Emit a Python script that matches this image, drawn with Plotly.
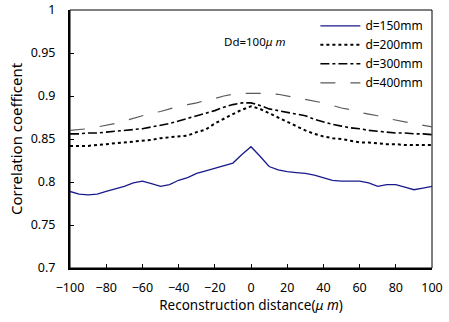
import plotly.graph_objects as go

x_vals = [-100, -95, -90, -85, -80, -75, -70, -65, -60, -55, -50, -45, -40, -35, -30, -25, -20, -15, -10, -5,
          0, 5, 10, 15, 20, 25, 30, 35, 40, 45, 50, 55, 60, 65, 70, 75, 80, 85, 90, 95, 100]

d150 = [0.789, 0.786, 0.785, 0.786, 0.789, 0.792, 0.795, 0.799, 0.801, 0.798, 0.795, 0.797, 0.802, 0.805,
        0.810, 0.813, 0.816, 0.819, 0.822, 0.832, 0.841, 0.830, 0.818, 0.814, 0.812, 0.811, 0.810, 0.808,
        0.805, 0.802, 0.801, 0.801, 0.801, 0.799, 0.795, 0.797, 0.797, 0.794, 0.791, 0.793, 0.795]
d200 = [0.842, 0.842, 0.842, 0.843, 0.844, 0.845, 0.846, 0.847, 0.848, 0.849, 0.851, 0.852, 0.853, 0.854,
        0.858, 0.861, 0.868, 0.874, 0.879, 0.884, 0.888, 0.885, 0.880, 0.875, 0.870, 0.865, 0.860, 0.856,
        0.853, 0.851, 0.850, 0.848, 0.846, 0.846, 0.845, 0.844, 0.844, 0.843, 0.843, 0.843, 0.843]
d300 = [0.856, 0.856, 0.857, 0.857, 0.858, 0.859, 0.860, 0.861, 0.862, 0.864, 0.866, 0.868, 0.871, 0.874,
        0.877, 0.880, 0.883, 0.887, 0.890, 0.892, 0.892, 0.889, 0.885, 0.883, 0.881, 0.879, 0.877, 0.873,
        0.870, 0.867, 0.865, 0.863, 0.862, 0.860, 0.859, 0.858, 0.857, 0.857, 0.856, 0.856, 0.855]
d400 = [0.860, 0.861, 0.862, 0.864, 0.866, 0.868, 0.871, 0.874, 0.877, 0.880, 0.882, 0.885, 0.888, 0.890,
        0.892, 0.895, 0.897, 0.900, 0.902, 0.903, 0.903, 0.903, 0.903, 0.902, 0.900, 0.898, 0.896, 0.894,
        0.892, 0.889, 0.886, 0.884, 0.881, 0.879, 0.877, 0.874, 0.872, 0.870, 0.868, 0.866, 0.864]

series_names = ["d=150mm", "d=200mm", "d=300mm", "d=400mm"]
x_ticks = [-100, -80, -60, -40, -20, 0, 20, 40, 60, 80, 100]
y_ticks = [0.7, 0.75, 0.8, 0.85, 0.9, 0.95, 1]
y_ticktext = ["0.7", "0.75", "0.8", "0.85", "0.9", "0.95", "1"]

FONT = "Noto Sans, DejaVu Sans, sans-serif"

fig = go.Figure()
fig.add_trace(go.Scatter(x=x_vals, y=d150, name=series_names[0], mode="lines",
                         line=dict(color="#1a1a8c", width=1.3)))
fig.add_trace(go.Scatter(x=x_vals, y=d200, name=series_names[1], mode="lines",
                         line=dict(color="black", width=2, dash="dot")))
fig.add_trace(go.Scatter(x=x_vals, y=d300, name=series_names[2], mode="lines",
                         line=dict(color="black", width=1.6, dash="dashdot")))
fig.add_trace(go.Scatter(x=x_vals, y=d400, name=series_names[3], mode="lines",
                         line=dict(color="#5a5a5a", width=1.2, dash="longdash")))

fig.add_annotation(x=-16, y=0.963, xref="x", yref="y", text="Dd=100<i>μ m</i>",
                   showarrow=False, xanchor="left", yanchor="middle",
                   font=dict(family=FONT, size=11.5, color="black"))

# thin frame on top/right
fig.add_shape(type="rect", xref="paper", yref="paper", x0=0, y0=0, x1=1, y1=1,
              line=dict(color="black", width=1), layer="below")

fig.update_layout(
    width=449, height=322,
    margin=dict(l=70, r=17, t=10, b=54, autoexpand=False),
    paper_bgcolor="white", plot_bgcolor="white",
    font=dict(family=FONT, size=12, color="black"),
    showlegend=True,
    legend=dict(x=0.99, y=0.995, xanchor="right", yanchor="top",
                bgcolor="rgba(0,0,0,0)", borderwidth=0,
                font=dict(family=FONT, size=12), tracegroupgap=0,
                itemwidth=40),
    xaxis=dict(range=[-100, 100], tickvals=x_ticks, ticks="inside", ticklen=4,
               tickcolor="black", showline=True, linecolor="black", linewidth=2,
               showgrid=False, zeroline=False, automargin=False, ticklabelstandoff=7,
               ticklabeloverflow="allow", tickfont=dict(size=12.5),
               title=dict(text="Reconstruction distance(<i>μ m</i>)", standoff=0,
                          font=dict(family=FONT, size=13.5))),
    yaxis=dict(range=[0.7, 1.0], tickvals=y_ticks, ticktext=y_ticktext, ticks="inside",
               ticklen=4, tickcolor="black", showline=True, linecolor="black", linewidth=2,
               showgrid=False, zeroline=False, automargin=False, ticklabelstandoff=10,
               ticklabeloverflow="allow", tickfont=dict(size=12.5),
               title=dict(text="Correlation coefficent", standoff=4,
                          font=dict(family=FONT, size=15))),
)

# remove the browser's default 8px body margin so the figure fills the window
fig.write_html("out.html", config={"displayModeBar": False},
               post_script="document.body.style.margin='0';")
